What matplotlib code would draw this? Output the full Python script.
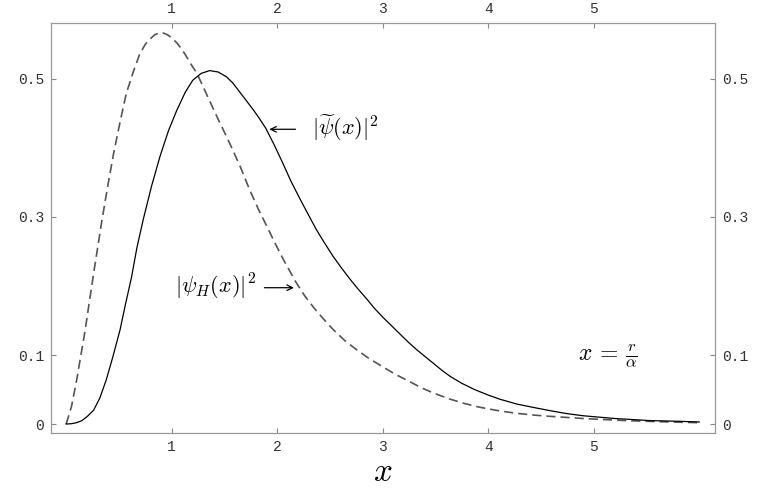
import numpy as np
import matplotlib
matplotlib.use("Agg")
import matplotlib.pyplot as plt

plt.rcParams['mathtext.fontset'] = 'cm'

# |psi_H(x)|^2  (dashed curve)
x_h = [0.0, 0.05, 0.10, 0.14, 0.18, 0.22, 0.26, 0.30, 0.34, 0.40, 0.45, 0.51,
       0.57, 0.64, 0.70, 0.75, 0.79, 0.84, 0.89, 0.93, 0.97, 1.01, 1.05, 1.09,
       1.13, 1.18, 1.24, 1.33, 1.43, 1.54, 1.65, 1.74, 1.82, 1.90, 1.98, 2.06,
       2.18, 2.26, 2.35, 2.44, 2.53, 2.64, 2.75, 2.87, 3.0, 3.12, 3.25, 3.36,
       3.48, 3.64, 3.77, 3.9, 4.0, 4.11, 4.27, 4.43, 4.6, 4.75, 4.9, 5.1, 5.3,
       5.6, 5.8, 6.0]
y_h = [0.0, 0.025, 0.064, 0.100, 0.136, 0.177, 0.218, 0.257, 0.296, 0.350,
       0.392, 0.437, 0.479, 0.512, 0.537, 0.550, 0.557, 0.564, 0.567, 0.566,
       0.563, 0.558, 0.552, 0.544, 0.535, 0.522, 0.508, 0.478, 0.445, 0.410,
       0.373, 0.339, 0.312, 0.287, 0.262, 0.238, 0.205, 0.186, 0.168, 0.152,
       0.137, 0.121, 0.108, 0.095, 0.083, 0.072, 0.062, 0.053, 0.045, 0.036,
       0.030, 0.025, 0.022, 0.019, 0.0155, 0.013, 0.011, 0.0095, 0.008,
       0.0065, 0.005, 0.0035, 0.0027, 0.002]

# |psi~(x)|^2  (solid curve)
x_t = [0.0, 0.05, 0.10, 0.15, 0.20, 0.26, 0.32, 0.38, 0.44, 0.51, 0.56, 0.62,
       0.67, 0.73, 0.81, 0.89, 0.97, 1.05, 1.13, 1.2, 1.28, 1.36, 1.44, 1.52,
       1.58, 1.65, 1.71, 1.77, 1.83, 1.89, 1.97, 2.05, 2.13, 2.22, 2.30, 2.37,
       2.45, 2.53, 2.61, 2.69, 2.77, 2.85, 2.92, 3.0, 3.08, 3.16, 3.24, 3.32,
       3.40, 3.48, 3.56, 3.64, 3.75, 3.87, 4.0, 4.11, 4.27, 4.43, 4.6, 4.75,
       4.9, 5.05, 5.2, 5.37, 5.53, 5.8, 6.0]
y_t = [0.0, 0.0005, 0.002, 0.005, 0.011, 0.020, 0.038, 0.064, 0.096, 0.136,
       0.172, 0.213, 0.255, 0.296, 0.345, 0.388, 0.425, 0.455, 0.481, 0.498,
       0.508, 0.512, 0.510, 0.503, 0.494, 0.480, 0.468, 0.456, 0.443, 0.429,
       0.405, 0.379, 0.352, 0.325, 0.302, 0.282, 0.262, 0.243, 0.226, 0.210,
       0.195, 0.181, 0.168, 0.155, 0.143, 0.131, 0.119, 0.108, 0.098, 0.088,
       0.078, 0.069, 0.059, 0.050, 0.042, 0.036, 0.029, 0.024, 0.019, 0.015,
       0.012, 0.010, 0.008, 0.0065, 0.005, 0.004, 0.003]

x_ticks = [1, 2, 3, 4, 5]
y_ticks = [0, 0.1, 0.3, 0.5]
y_ticklabels = ["0", "0.1", "0.3", "0.5"]

fig = plt.figure(figsize=(7.63, 4.92), dpi=100)
ax = fig.add_axes([0.0668, 0.1199, 0.8703, 0.8334])

ax.plot(x_h, y_h, color="#555555", lw=1.2, dashes=(5.5, 3))
ax.plot(x_t, y_t, color="black", lw=0.9)

ax.set_xlim(-0.144, 6.15)
ax.set_ylim(-0.013, 0.581)

ax.set_xticks(x_ticks)
ax.set_yticks(y_ticks)
ax.set_yticklabels(y_ticklabels)
ax.tick_params(top=True, right=True, labeltop=True, labelright=True,
               direction='in', length=3.5, width=0.8, color="#888888",
               labelcolor="#333333", labelsize=10.5, pad=5)
for t in ax.xaxis.get_major_ticks() + ax.yaxis.get_major_ticks():
    t.label1.set_family("Liberation Mono")
    t.label2.set_family("Liberation Mono")

for s in ax.spines.values():
    s.set_color("#999999")
    s.set_linewidth(0.9)

# curve labels with arrows
arrow = dict(arrowstyle="->", lw=0.9, color="black")
ax.text(2.327, 0.429, r"$|\widetilde{\psi}(x)|^2$", fontsize=16, va="center", ha="left")
ax.annotate("", xy=(1.90, 0.427), xytext=(2.20, 0.427), arrowprops=arrow)
ax.text(1.031, 0.199, r"$|\psi_H(x)|^2$", fontsize=16, va="center", ha="left")
ax.annotate("", xy=(2.185, 0.1975), xytext=(1.853, 0.1975), arrowprops=arrow)
ax.text(5.13, 0.099, r"$x\,=\,\frac{r}{\alpha}$", fontsize=17, va="center", ha="center")

ax.set_xlabel(r"$x$", fontsize=24, labelpad=1)

fig.savefig("out.png", dpi=100)
